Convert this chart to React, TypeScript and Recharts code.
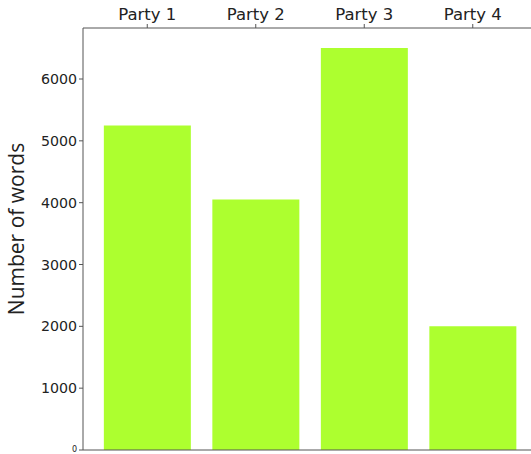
import { BarChart, Bar, XAxis, YAxis, ReferenceLine } from 'recharts';

const parties = ['Party 1', 'Party 2', 'Party 3', 'Party 4'];
const wordCounts = [5250, 4050, 6500, 2000];
const yTicks = [0, 1000, 2000, 3000, 4000, 5000, 6000];

const data = parties.map((party, i) => ({ party, words: wordCounts[i] }));

// matplotlib drew the 0 label much smaller than the others
const YTick = (props: any) => {
  const { x, y, payload } = props;
  const isZero = payload.value === 0;
  return (
    <text
      x={x}
      y={y}
      dy={isZero ? 2 : 5}
      textAnchor="end"
      fontSize={isZero ? 8 : 14.2}
      fill="#222"
      fontFamily="DejaVu Sans"
    >
      {payload.value}
    </text>
  );
};

const YLabel = () => (
  <text
    x={24}
    y={229}
    transform="rotate(-90, 24, 229)"
    textAnchor="middle"
    fontSize={21}
    fill="#222"
    fontFamily="Open Sans"
  >
    Number of words
  </text>
);

export default function App() {
  return (
    <div style={{ position: 'absolute', left: 0, top: 0, width: 531, height: 454, overflow: 'hidden', background: '#fff' }}>
      <BarChart
        width={545}
        height={454}
        data={data}
        margin={{ top: 0, right: 8, left: 0, bottom: 4 }}
        barCategoryGap="10%"
      >
        <XAxis
          dataKey="party"
          orientation="top"
          height={28}
          padding={{ left: 10, right: 10 }}
          stroke="#555"
          tickLine={{ stroke: '#555' }}
          tickSize={4}
          tick={{ fontSize: 16.5, fill: '#222', fontFamily: 'DejaVu Sans', dy: -2 }}
        />
        <YAxis
          domain={[0, 6825]}
          ticks={yTicks}
          interval={0}
          width={83}
          stroke="#555"
          tickSize={4}
          tick={<YTick />}
          label={<YLabel />}
        />
        <Bar dataKey="words" fill="#adff2f" isAnimationActive={false} />
        {/* bottom spine */}
        <ReferenceLine y={0} stroke="#555" />
      </BarChart>
    </div>
  );
}
